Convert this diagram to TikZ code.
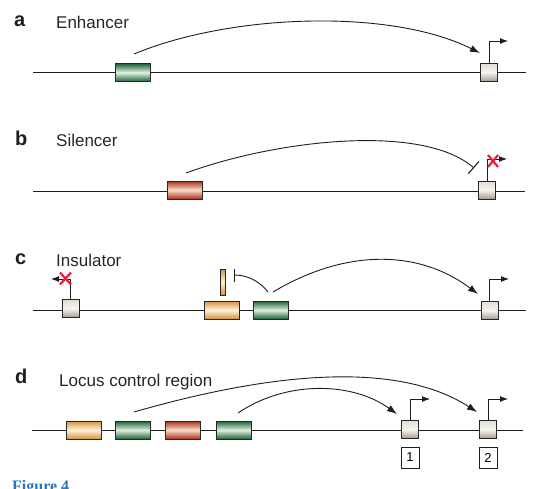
\documentclass[tikz,border=0pt]{standalone}
\usepackage{fontspec}
\setmainfont{Liberation Sans}
\newfontfamily\figfont{Liberation Serif}
\usetikzlibrary{arrows.meta}
\definecolor{linec}{RGB}{30,30,30}
\definecolor{gdark}{RGB}{30,95,55}
\definecolor{glight}{RGB}{225,242,225}
\definecolor{rdark}{RGB}{165,50,30}
\definecolor{rlight}{RGB}{252,220,200}
\definecolor{odark}{RGB}{215,145,60}
\definecolor{olight}{RGB}{255,242,220}
\definecolor{ptop}{RGB}{225,222,212}
\definecolor{pmid}{RGB}{245,244,238}
\definecolor{pbot}{RGB}{165,155,140}
\definecolor{xred}{RGB}{232,30,60}
\definecolor{figblue}{RGB}{40,115,185}
\begin{document}
\begin{tikzpicture}[x=1pt,y=-1pt,
  dna/.style={line width=0.9pt, draw=linec},
  elem/.style={draw=black!85, line width=0.6pt, inner sep=0, minimum width=35pt, minimum height=18pt},
  grn/.style={elem, top color=gdark, bottom color=gdark, middle color=glight},
  rd/.style={elem, top color=rdark, bottom color=rdark, middle color=rlight},
  org/.style={elem, top color=odark, bottom color=odark, middle color=olight},
  prom/.style={draw=black!85, line width=0.6pt, inner sep=0, minimum width=17pt, minimum height=18pt, top color=ptop, bottom color=pbot, middle color=pmid},
  tss/.style={line width=0.9pt, draw=linec, -{Latex[length=8pt,width=6pt]}},
  loopar/.style={line width=0.9pt, draw=linec, -{Latex[length=10pt,width=7pt]}},
  block/.style={line width=0.9pt, draw=linec, -{Bar[width=16pt,line width=1.1pt]}},
  xmark/.style={draw=xred, line width=2.2pt},
  panel/.style={font=\bfseries\fontsize{20}{20}\selectfont, anchor=base west, inner sep=0, text=linec},
  ttl/.style={font=\fontsize{17}{17}\selectfont, anchor=base west, inner sep=0, text=black!85},
  numbox/.style={draw=linec, line width=0.8pt, inner sep=0, minimum width=18pt, minimum height=21pt, font=\fontsize{13}{13}\selectfont},
]
\path[use as bounding box] (0,0) rectangle (541,488);
\clip (0,0) rectangle (541,488);

% ---------- panel a ----------
\node[panel] (la) at (14,26) {a};
\node[ttl] (ta) at (56,28.3) {Enhancer};
\coordinate (aL) at (33,72);
\coordinate (aR) at (526,72);
\draw[dna] (aL) -- (aR);
\node[grn] (ae) at (132.5,72.5) {};
\node[prom] (ap) at (489,72.5) {};
\coordinate (apt) at (508,41);
\draw[tss] (ap.north) |- (apt);
\coordinate (aes) at (134,54);
\coordinate (aee) at (480,53);
\draw[loopar] (aes) .. controls (230,14) and (390,8) .. (aee);

% ---------- panel b ----------
\node[panel] (lb) at (15,145) {b};
\node[ttl] (tb) at (56,146.5) {Silencer};
\coordinate (bL) at (33,191);
\coordinate (bR) at (525,191);
\draw[dna] (bL) -- (bR);
\node[rd] (bs) at (184.5,190) {};
\node[prom] (bp) at (487,190) {};
\coordinate (bpt) at (507,159);
\draw[tss] (bp.north) |- (bpt);
\coordinate (bss) at (186,173);
\coordinate (bse) at (474,168);
\draw[block] (bss) .. controls (276,140) and (422,123) .. (bse);
\draw[xmark] (488,155) -- (498,167) (498,155) -- (488,167);

% ---------- panel c ----------
\node[panel] (lc) at (15,264) {c};
\node[ttl] (tc) at (56,266.5) {Insulator};
\coordinate (cL) at (33,310);
\coordinate (cR) at (526,310);
\draw[dna] (cL) -- (cR);
\node[prom] (cp1) at (70.5,308.5) {};
\coordinate (cp1t) at (51,279);
\draw[tss] (cp1.north) |- (cp1t);
\draw[xmark] (60,272.5) -- (71,284.5) (71,272.5) -- (60,284.5);
\node[org, minimum width=5pt, minimum height=26pt] (cbarel) at (222.5,282) {};
\node[org] (co) at (221.5,310) {};
\node[grn] (cg) at (270.5,310) {};
\node[prom] (cp2) at (489.5,310.5) {};
\coordinate (cp2t) at (509,279);
\draw[tss] (cp2.north) |- (cp2t);
\coordinate (cis) at (268,292);
\coordinate (cie) at (234,275);
\draw[block, -{Bar[width=13pt,line width=1.1pt]}] (cis) .. controls (262,284) and (250,275) .. (cie);
\coordinate (ces) at (273,292);
\coordinate (cee) at (478,294);
\draw[loopar] (ces) .. controls (345,249) and (418,249) .. (cee);

% ---------- panel d ----------
\node[panel] (ld) at (15,383) {d};
\node[ttl] (td) at (59,386) {Locus control region};
\coordinate (dL) at (32,430);
\coordinate (dR) at (523,430);
\draw[dna] (dL) -- (dR);
\node[org] (do) at (84,430) {};
\node[grn] (dg1) at (133,430) {};
\node[rd] (dr) at (183,430) {};
\node[grn] (dg2) at (233.5,430) {};
\node[prom] (dp1) at (410,429.5) {};
\node[prom] (dp2) at (488,429.5) {};
\coordinate (dp1t) at (430,399);
\coordinate (dp2t) at (508,399);
\draw[tss] (dp1.north) |- (dp1t);
\draw[tss] (dp2.north) |- (dp2t);
\node[numbox] (n1) at (410,457.5) {1};
\node[numbox] (n2) at (488,457.5) {2};
\coordinate (d1s) at (134,412);
\coordinate (d1e) at (477,412);
\draw[loopar] (d1s) .. controls (294,366) and (406,366) .. (d1e);
\coordinate (d2s) at (238,413);
\coordinate (d2e) at (397,414);
\draw[loopar] (d2s) .. controls (285,381) and (351,381) .. (d2e);

% ---------- caption (cut off) ----------
\node[anchor=base west, inner sep=0, text=figblue, font=\figfont\bfseries\fontsize{16}{16}\selectfont] (fig) at (12,491.5) {Figure 4};
\end{tikzpicture}
\end{document}
